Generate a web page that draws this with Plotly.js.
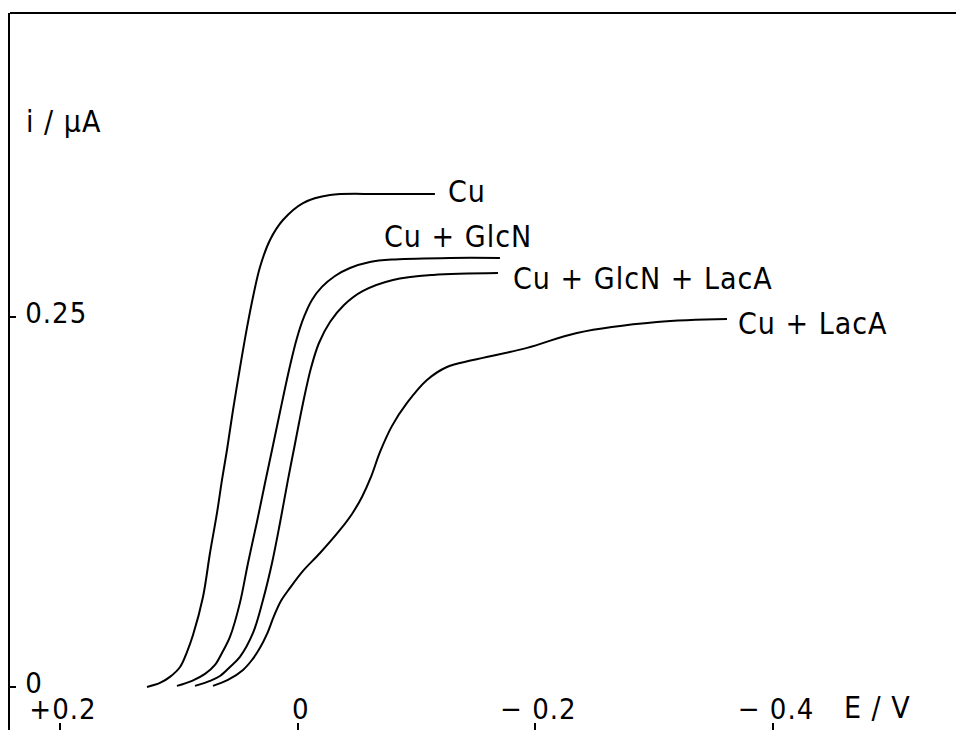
<!DOCTYPE html>
<html>
<head>
<meta charset="utf-8">
<script src="https://cdn.plot.ly/plotly-3.0.1.min.js"></script>
<style>
  html, body { margin: 0; padding: 0; background: #fff; overflow: hidden; }
  #chart { width: 956px; height: 730px; }
  svg text { letter-spacing: 1px; }
</style>
</head>
<body>
<div id="chart"></div>
<script>
// Potential E / V and current i / µA
const E_Cu = [0.1268, 0.1159, 0.1075, 0.0990, 0.0932, 0.0881, 0.0797, 0.0738, 0.0679, 0.0637, 0.0595, 0.0544, 0.0486, 0.0427, 0.0376, 0.0317, 0.0233, 0.0124, -0.0045, -0.0272, -0.0693, -0.1155];
const I_Cu = [0.0000, 0.0027, 0.0068, 0.0135, 0.0236, 0.0351, 0.0608, 0.0905, 0.1176, 0.1399, 0.1601, 0.1872, 0.2155, 0.2426, 0.2635, 0.2838, 0.3020, 0.3155, 0.3270, 0.3324, 0.3331, 0.3331];

const E_GlcN = [0.1016, 0.0889, 0.0780, 0.0696, 0.0637, 0.0570, 0.0486, 0.0418, 0.0343, 0.0275, 0.0216, 0.0149, 0.0065, 0.0006, -0.0053, -0.0120, -0.0204, -0.0314, -0.0440, -0.0608, -0.0819, -0.1282, -0.1702];
const I_GlcN = [0.0007, 0.0041, 0.0088, 0.0149, 0.0230, 0.0338, 0.0568, 0.0838, 0.1115, 0.1378, 0.1601, 0.1858, 0.2169, 0.2358, 0.2500, 0.2615, 0.2703, 0.2777, 0.2831, 0.2872, 0.2889, 0.2899, 0.2899];

const E_GlcN_LacA = [0.0864, 0.0738, 0.0654, 0.0570, 0.0486, 0.0376, 0.0292, 0.0216, 0.0149, 0.0082, 0.0023, -0.0045, -0.0112, -0.0179, -0.0272, -0.0390, -0.0550, -0.0802, -0.1139, -0.1686];
const I_GlcN_LacA = [0.0007, 0.0041, 0.0074, 0.0135, 0.0203, 0.0365, 0.0588, 0.0838, 0.1108, 0.1399, 0.1642, 0.1919, 0.2155, 0.2324, 0.2466, 0.2581, 0.2676, 0.2750, 0.2784, 0.2797];

const E_LacA = [0.0713, 0.0587, 0.0460, 0.0385, 0.0317, 0.0258, 0.0199, 0.0141, 0.0065, -0.0045, -0.0188, -0.0356, -0.0457, -0.0541, -0.0617, -0.0693, -0.0794, -0.0920, -0.1088, -0.1256, -0.1475, -0.1930, -0.2350, -0.3024, -0.3613];
const I_LacA = [0.0007, 0.0047, 0.0115, 0.0182, 0.0264, 0.0358, 0.0480, 0.0581, 0.0669, 0.0784, 0.0905, 0.1061, 0.1169, 0.1284, 0.1419, 0.1588, 0.1764, 0.1919, 0.2074, 0.2162, 0.2209, 0.2291, 0.2392, 0.2466, 0.2486];

const SERIES_NAMES = ['Cu', 'Cu + GlcN', 'Cu + GlcN + LacA', 'Cu + LacA'];
const X_TICK_VALS = [0.2, 0, -0.2, -0.4];
const X_TICK_TEXT = ['+0.2', '0', '\u2212 0.2', '\u2212 0.4'];
const Y_TICK_VALS = [0, 0.25];
const Y_TICK_TEXT = ['0', '0.25'];
const X_TITLE = 'E / V';
const Y_TITLE = 'i / \u00b5A';

const FONT = 'DejaVu Sans Condensed, DejaVu Sans, sans-serif';
const lineStyle = {color: '#000', width: 2, shape: 'spline', smoothing: 1.0};

const seriesE = [E_Cu, E_GlcN, E_GlcN_LacA, E_LacA];
const seriesI = [I_Cu, I_GlcN, I_GlcN_LacA, I_LacA];

const traces = seriesE.map((ex, k) => ({
  x: ex, y: seriesI[k], name: SERIES_NAMES[k], type: 'scatter', mode: 'lines',
  line: lineStyle, hoverinfo: 'skip'
}));

// label placement relative to the end of each curve
const labelOpts = [
  {xanchor: 'left', xshift: 11, yshift: 2},
  {xanchor: 'right', xshift: 34, yshift: 21},
  {xanchor: 'left', xshift: 13, yshift: -5},
  {xanchor: 'left', xshift: 9, yshift: -4}
];

const annotations = seriesE.map((ex, k) => ({
  x: ex[ex.length - 1], y: seriesI[k][seriesI[k].length - 1], xref: 'x', yref: 'y',
  text: SERIES_NAMES[k], showarrow: false, xanchor: labelOpts[k].xanchor, yanchor: 'middle',
  xshift: labelOpts[k].xshift, yshift: labelOpts[k].yshift,
  font: {family: FONT, size: 30, color: '#000'}
}));

annotations.push({
  x: 0.9175, y: 0.0307, xref: 'paper', yref: 'paper', text: X_TITLE, showarrow: false,
  xanchor: 'center', yanchor: 'middle', font: {family: FONT, size: 30, color: '#000'}
});
annotations.push({
  x: 0.057, y: 0.848, xref: 'paper', yref: 'paper', text: Y_TITLE, showarrow: false,
  xanchor: 'center', yanchor: 'middle', font: {family: FONT, size: 30, color: '#000'}
});

const layout = {
  width: 956, height: 730,
  margin: {l: 10, r: 0, t: 13, b: 0, pad: 0},
  paper_bgcolor: '#fff', plot_bgcolor: '#fff',
  showlegend: false,
  xaxis: {
    range: [0.2421, -0.554], tickmode: 'array', tickvals: X_TICK_VALS, ticktext: X_TICK_TEXT,
    ticks: 'inside', ticklen: 7, tickwidth: 2, tickcolor: '#000',
    ticklabelposition: 'outside', ticklabelstandoff: -41, ticklabelshift: -3,
    ticklabeloverflow: 'allow',
    showline: false, showgrid: false, zeroline: false, automargin: false,
    tickfont: {family: FONT, size: 29, color: '#000'}
  },
  yaxis: {
    range: [-0.0291, 0.4554], tickmode: 'array', tickvals: Y_TICK_VALS, ticktext: Y_TICK_TEXT,
    ticks: 'inside', ticklen: 6, tickwidth: 2, tickcolor: '#000',
    ticklabelposition: 'inside', ticklabelstandoff: 12, ticklabelshift: -4,
    ticklabeloverflow: 'allow',
    showline: true, linewidth: 2, linecolor: '#000',
    showgrid: false, zeroline: false,
    tickfont: {family: FONT, size: 29, color: '#000'}
  },
  shapes: [{type: 'line', xref: 'paper', yref: 'paper', x0: 0, x1: 1, y0: 1, y1: 1,
            line: {color: '#000', width: 2}}],
  annotations: annotations
};

Plotly.newPlot('chart', traces, layout, {staticPlot: true, displayModeBar: false});
</script>
</body>
</html>
